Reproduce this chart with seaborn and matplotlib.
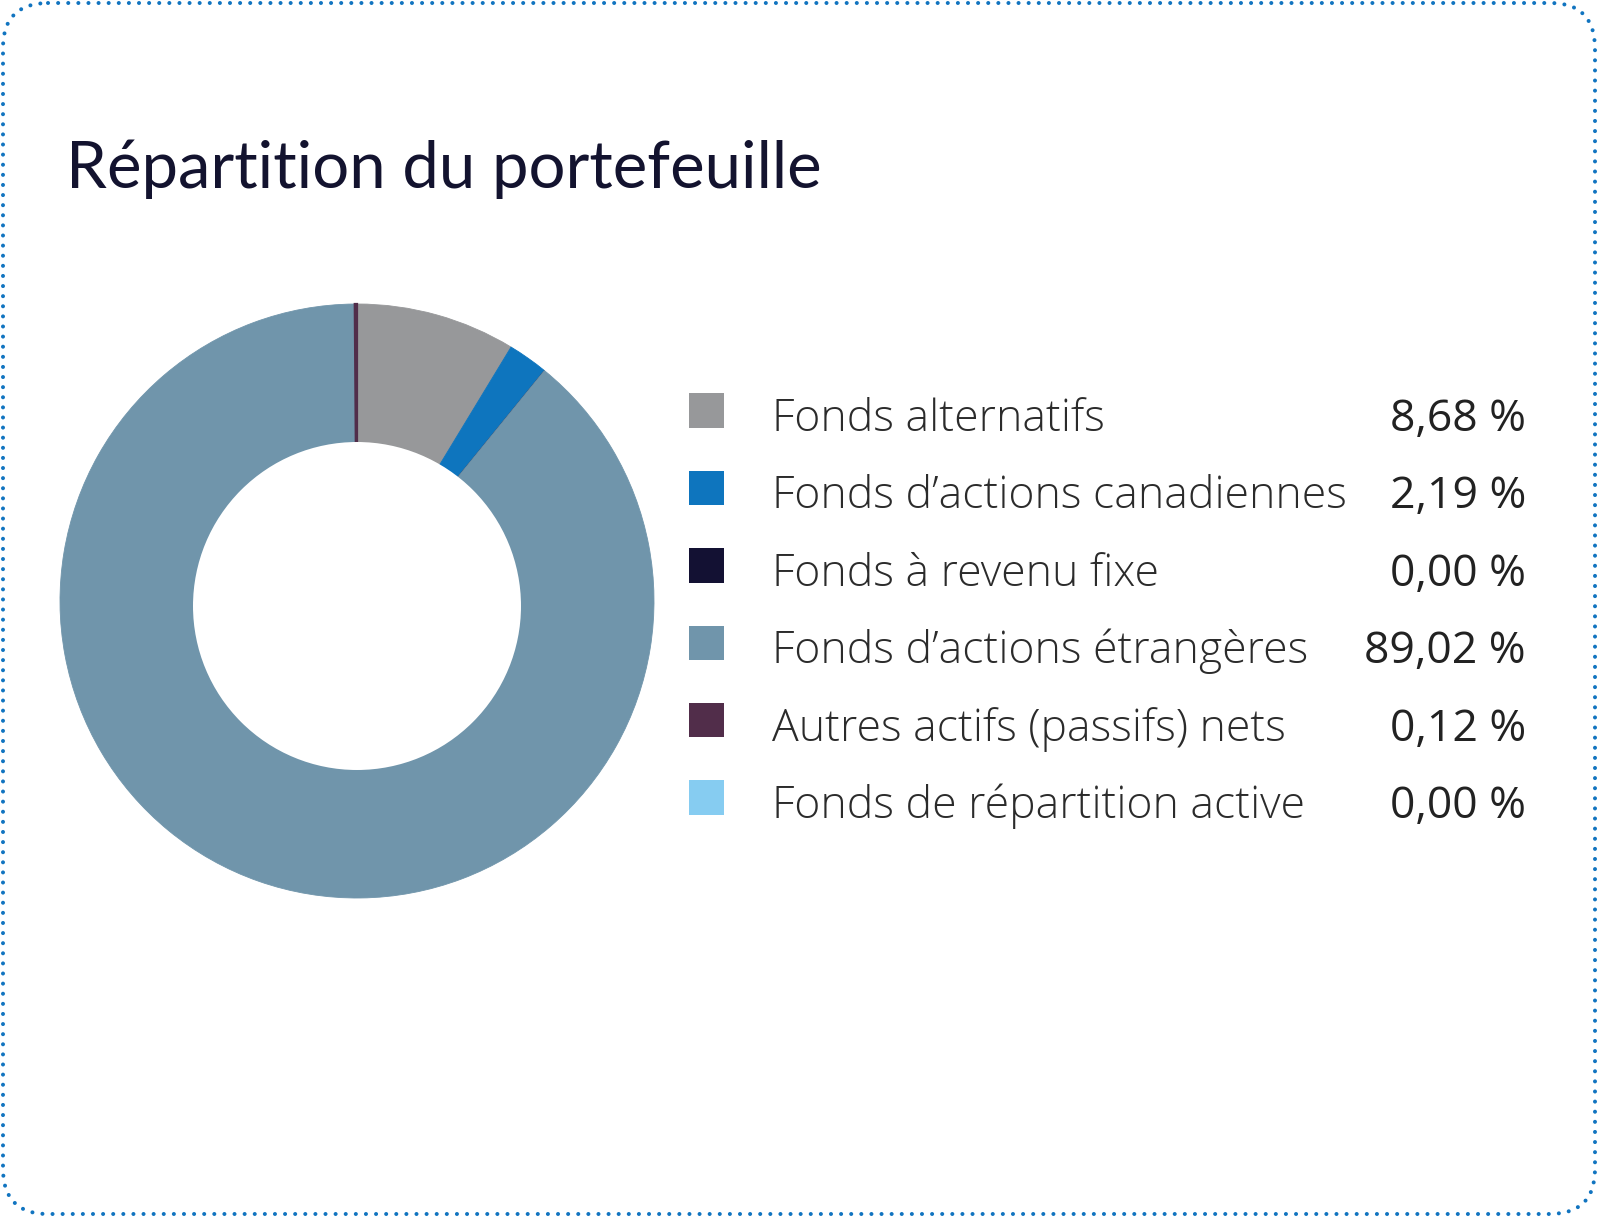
import matplotlib
matplotlib.use("Agg")
import matplotlib.pyplot as plt
from matplotlib.patches import FancyBboxPatch, Rectangle, Circle
import seaborn as sns

# ---- data ----
categories = [
    "Fonds alternatifs",
    "Fonds d\u2019actions canadiennes",
    "Fonds \u00e0 revenu fixe",
    "Fonds d\u2019actions \u00e9trang\u00e8res",
    "Autres actifs (passifs) nets",
    "Fonds de r\u00e9partition active",
]
values = [8.68, 2.19, 0.00, 89.02, 0.12, 0.00]
value_labels = ["8,68 %", "2,19 %", "0,00 %", "89,02 %", "0,12 %", "0,00 %"]
colors = ["#97989a", "#0e75be", "#131133", "#7095ab", "#512d4a", "#86ccf1"]
title = "R\u00e9partition du portefeuille"

sns.set_theme(style="white")
plt.rcParams["font.family"] = ["Open Sans", "DejaVu Sans"]

W, H = 1598, 1217
fig = plt.figure(figsize=(W / 100, H / 100), dpi=100)
fig.patch.set_facecolor("white")

# overlay axes in pixel coordinates
bg = fig.add_axes([0, 0, 1, 1])
bg.set_xlim(0, W)
bg.set_ylim(H, 0)
bg.axis("off")

border = FancyBboxPatch((3, 3), W - 6, H - 6,
                        boxstyle="round,pad=0,rounding_size=45",
                        facecolor="none", edgecolor="#1174c0",
                        linewidth=2.9, linestyle=(0, (0.01, 2.5)))
border.set_capstyle("round")
bg.add_patch(border)

bg.text(66, 188, title, fontsize=47, color="#13132f",
        family=["Lato", "DejaVu Sans"], va="baseline", ha="left")

# donut
cx, cy, R = 357, 601, 297
pie_ax = fig.add_axes([(cx - R) / W, (H - cy - R) / H, 2 * R / W, 2 * R / H])
wedges, _ = pie_ax.pie(values, colors=colors, startangle=90, counterclock=False,
                       radius=1.0, wedgeprops=dict(linewidth=0.6))
for w_, c, v in zip(wedges, colors, values):
    w_.set_edgecolor(c)
    if 0 < v < 1:
        w_.set_linewidth(1.6)
        w_.set_zorder(3)
# hole of the donut (slightly offset as in the reference)
pie_ax.add_patch(Circle((0, -5 / R), 164 / R, facecolor="white", edgecolor="none", zorder=5))
pie_ax.set_xlim(-1, 1)
pie_ax.set_ylim(-1, 1)
pie_ax.set_aspect("equal")
pie_ax.axis("off")

# legend
base0, step = 431, 77.4
for i, (lab, vl, c) in enumerate(zip(categories, value_labels, colors)):
    b = base0 + step * i
    bg.add_patch(Rectangle((689, b - 37.7), 35, 34.5, facecolor=c, edgecolor="none"))
    bg.text(772, b, lab, fontsize=32, fontweight="light", color="#2b2b2b",
            va="baseline", ha="left")
    bg.text(1526, b, vl, fontsize=32, color="#222222", va="baseline", ha="right")

fig.savefig("out.png", dpi=100, facecolor="white")
